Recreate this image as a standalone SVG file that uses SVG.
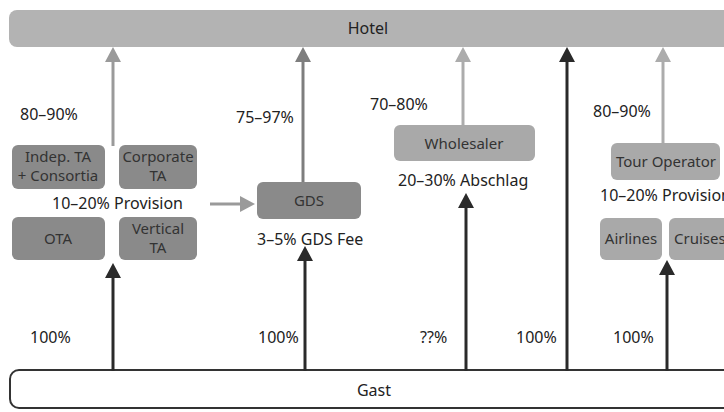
<svg xmlns="http://www.w3.org/2000/svg" width="724" height="412" viewBox="0 0 724 412">
<defs>
<style>
text{font-family:"Noto Sans","Open Sans","DejaVu Sans",sans-serif;font-size:16px;fill:#222;}
.bx text{fill:#333;text-anchor:middle;font-size:15px;}
.mid{text-anchor:middle;}
.dk{fill:#8a8a8a;}
.lt{fill:#a9a9a9;}
.ln{fill:none;stroke-width:3;}
</style>
<marker id="ahG" markerUnits="userSpaceOnUse" refX="0" refY="0" orient="auto" overflow="visible"><path d="M-3,-8 L12,0 L-3,8 Z" fill="#9a9a9a"/></marker>
<marker id="ahM" markerUnits="userSpaceOnUse" refX="0" refY="0" orient="auto" overflow="visible"><path d="M-3,-8 L12,0 L-3,8 Z" fill="#7e7e7e"/></marker>
<marker id="ahL" markerUnits="userSpaceOnUse" refX="0" refY="0" orient="auto" overflow="visible"><path d="M-3,-8 L12,0 L-3,8 Z" fill="#acacac"/></marker>
<marker id="ahK" markerUnits="userSpaceOnUse" refX="0" refY="0" orient="auto" overflow="visible"><path d="M-3,-8 L12,0 L-3,8 Z" fill="#2a2a2a"/></marker>
</defs>
<rect width="724" height="412" fill="#fff"/>

<g id="hotel">
<rect x="9" y="10" width="730" height="37" rx="8" fill="#b3b3b3"/>
<text x="368" y="34" class="mid">Hotel</text>
</g>

<g id="gast">
<rect x="10" y="370" width="730" height="38" rx="9" fill="#fff" stroke="#333" stroke-width="2"/>
<text x="374" y="396" class="mid">Gast</text>
</g>

<g id="connectors">
<line class="ln" x1="113" y1="146" x2="113" y2="59" stroke="#9a9a9a" marker-end="url(#ahG)"/>
<line class="ln" x1="303" y1="182" x2="303" y2="59" stroke="#7e7e7e" marker-end="url(#ahM)"/>
<line class="ln" x1="463" y1="125" x2="463" y2="59" stroke="#acacac" marker-end="url(#ahL)"/>
<line class="ln" x1="567" y1="371" x2="567" y2="59" stroke="#2a2a2a" marker-end="url(#ahK)"/>
<line class="ln" x1="663" y1="143" x2="663" y2="59" stroke="#acacac" marker-end="url(#ahL)"/>
<line class="ln" x1="210" y1="204" x2="243" y2="204" stroke="#9a9a9a" marker-end="url(#ahG)"/>
<line class="ln" x1="113" y1="371" x2="113" y2="275" stroke="#2a2a2a" marker-end="url(#ahK)"/>
<line class="ln" x1="305" y1="371" x2="305" y2="258" stroke="#2a2a2a" marker-end="url(#ahK)"/>
<line class="ln" x1="466" y1="371" x2="466" y2="205" stroke="#2a2a2a" marker-end="url(#ahK)"/>
<line class="ln" x1="667" y1="371" x2="667" y2="272" stroke="#2a2a2a" marker-end="url(#ahK)"/>
</g>

<g id="indep" class="bx">
<rect x="12" y="145" width="93" height="44" rx="6" class="dk"/>
<text x="58" y="162">Indep. TA</text>
<text x="58" y="181">+ Consortia</text>
</g>
<g id="corporate" class="bx">
<rect x="119" y="145" width="78" height="44" rx="6" class="dk"/>
<text x="158" y="162">Corporate</text>
<text x="158" y="181">TA</text>
</g>
<g id="ota" class="bx">
<rect x="12" y="217" width="93" height="43" rx="6" class="dk"/>
<text x="58" y="244">OTA</text>
</g>
<g id="vertical" class="bx">
<rect x="119" y="217" width="78" height="43" rx="6" class="dk"/>
<text x="158" y="234">Vertical</text>
<text x="158" y="253">TA</text>
</g>
<g id="gds" class="bx">
<rect x="257" y="182" width="104" height="37" rx="6" class="dk"/>
<text x="309" y="206">GDS</text>
</g>
<g id="wholesaler" class="bx">
<rect x="394" y="125" width="141" height="36" rx="6" class="lt"/>
<text x="464" y="149">Wholesaler</text>
</g>
<g id="tourop" class="bx">
<rect x="611" y="143" width="109" height="37" rx="6" class="lt"/>
<text x="666" y="167">Tour Operator</text>
</g>
<g id="airlines" class="bx">
<rect x="600" y="218" width="62" height="42" rx="6" class="lt"/>
<text x="631" y="244">Airlines</text>
</g>
<g id="cruises" class="bx">
<rect x="669" y="218" width="70" height="42" rx="6" class="lt"/>
<text x="674" y="244" style="text-anchor:start">Cruises</text>
</g>

<g id="labels">
<text x="20" y="120">80–90%</text>
<text x="236" y="123">75–97%</text>
<text x="370" y="110">70–80%</text>
<text x="593" y="117">80–90%</text>
<text x="52" y="209">10–20% Provision</text>
<text x="257" y="245">3–5% GDS Fee</text>
<text x="398" y="186">20–30% Abschlag</text>
<text x="600" y="201">10–20% Provision</text>
<text x="30" y="343">100%</text>
<text x="258" y="343">100%</text>
<text x="420" y="343">??%</text>
<text x="516" y="343">100%</text>
<text x="613" y="343">100%</text>
</g>
</svg>
